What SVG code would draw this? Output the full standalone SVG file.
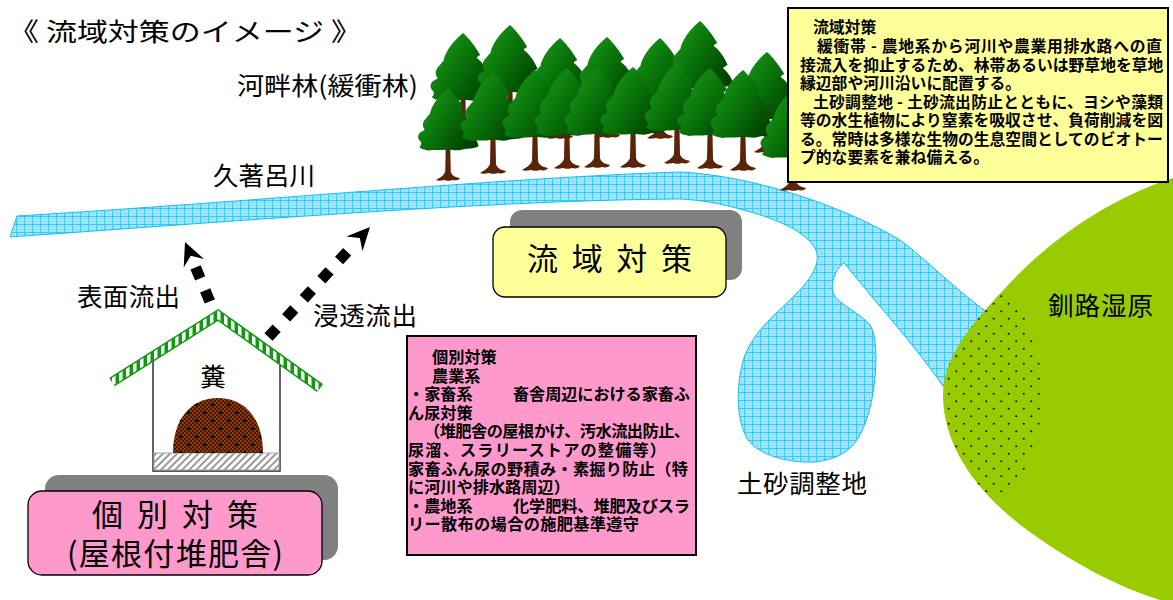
<svg xmlns="http://www.w3.org/2000/svg" width="1173" height="600" viewBox="0 0 1173 600">
<style>
.lbl{font-family:"Noto Sans CJK JP","Noto Sans CJK SC",sans-serif;font-size:25.5px;fill:#000}
.box{font-family:"Noto Sans CJK JP","Noto Sans CJK SC",sans-serif;font-size:31px;fill:#000}
.note{font-family:"Noto Sans CJK JP","Noto Sans CJK SC",sans-serif;font-size:15.8px;font-weight:bold;fill:#000}
.pnote{font-family:"Noto Sans CJK JP","Noto Sans CJK SC",sans-serif;font-size:16.2px;font-weight:bold;fill:#000}
.water{fill:url(#water);stroke:#12bff0;stroke-width:1}
.flow{fill:none;stroke:#000;stroke-width:11;stroke-linecap:butt;marker-end:url(#stealth)}
.shadow{fill:#808080}
</style>
<defs>
<pattern id="water" width="8" height="8" patternUnits="userSpaceOnUse">
<rect width="8" height="8" fill="#a2e4ff"/>
<rect x="2" y="2" width="1" height="1" fill="#62cff5"/>
<rect x="5" y="5" width="1" height="1" fill="#62cff5"/>
<rect x="2" y="5" width="1" height="1" fill="#7fd9f8"/>
<rect x="5" y="2" width="1" height="1" fill="#7fd9f8"/>
<path d="M0,0.5H8M0.5,0V8" stroke="#2cc6f2" stroke-width="0.9"/>
</pattern>
<pattern id="dots" width="15" height="15" patternUnits="userSpaceOnUse">
<circle cx="3.75" cy="3.75" r="1.1" fill="#1a1a00"/>
<circle cx="11.25" cy="11.25" r="1.1" fill="#1a1a00"/>
</pattern>
<pattern id="roofStripe" width="7" height="7" patternUnits="userSpaceOnUse">
<rect width="7" height="7" fill="#129912"/>
<rect width="3.5" height="7" fill="#fff"/>
</pattern>
<pattern id="hatch" width="5" height="5" patternUnits="userSpaceOnUse" patternTransform="rotate(45)">
<rect width="5" height="5" fill="#fff"/>
<rect width="2" height="5" fill="#9a9a9a"/>
</pattern>
<pattern id="manure" width="4" height="4" patternUnits="userSpaceOnUse">
<rect width="4" height="4" fill="#4a1700"/>
<rect width="2" height="2" fill="#8c3a0c"/>
<rect x="2" y="2" width="2" height="2" fill="#8c3a0c"/>
</pattern>
<pattern id="plus" width="16" height="16" patternUnits="userSpaceOnUse">
<path d="M2.5,4.5H6.5M4.5,2.5V6.5M10.5,12.5H14.5M12.5,10.5V14.5" stroke="#000" stroke-width="1.2"/>
</pattern>
<linearGradient id="leaf" x1="0" y1="0" x2="1" y2="0.7">
<stop offset="0" stop-color="#1ea31e"/>
<stop offset="0.5" stop-color="#0a760a"/>
<stop offset="1" stop-color="#004000"/>
</linearGradient>
<clipPath id="wetClip">
<path d="M1173,178 C1110,198 1050,240 1010,283 C975,320 943,355 943,395 C943,445 975,490 1023,527 C1070,562 1120,588 1160,600 L1173,600 Z"/>
</clipPath>
<marker id="stealth" viewBox="-25 -13 27 26" markerWidth="27" markerHeight="26" refX="0" refY="0" orient="auto" markerUnits="userSpaceOnUse">
<path d="M0,0 L-23,-11 L-15,0 L-23,11 Z" fill="#000"/>
</marker>
<g id="tree">
<path d="M-2.5,-34 L2.5,-34 L3,-9 C4,-5 8,-3 13,-2 C12,0 9,1 5,0 C3,1 -2,1 -4,0 C-8,1 -11,1 -13,0 C-10,-2 -5,-4 -3,-9 Z" fill="#5a2408"/>
<path transform="scale(1.15,1)" d="M0,-100 C5,-95 11,-86 15,-78 C13,-77 12,-76 12,-75 C18,-70 22,-62 24,-56 C22,-55 21,-54 20,-53 C25,-48 28,-42 29,-37 C24,-33 18,-35 13,-33 C8,-31 3,-34 -2,-33 C-8,-32 -13,-33 -18,-32 C-22,-33 -26,-34 -27,-36 C-25,-38 -25,-40 -26,-42 C-29,-45 -29,-49 -26,-52 C-24,-53 -23,-54 -22,-55 C-25,-59 -24,-64 -20,-68 C-19,-70 -18,-71 -17,-72 C-16,-80 -9,-92 0,-100 Z" fill="url(#leaf)"/>
</g>
</defs>

<rect width="1173" height="600" fill="#fff"/>

<g id="title">
<text class="lbl" x="8" y="41" font-size="23" textLength="354" lengthAdjust="spacingAndGlyphs">《 流域対策のイメージ 》</text>
</g>

<g id="river">
<path class="water" d="M17,216 C250,202 500,178 680,172 C760,176 850,210 900,240 C925,258 955,290 995,318 L995,400 L943,386 C925,360 900,330 877,303 C862,285 850,270 844,263 C836,268 829,285 834,295 C840,305 860,313 870,325 C880,340 876,390 868,415 C860,440 850,458 815,462 C785,463 760,455 748,440 C735,420 736,380 745,355 C755,330 775,315 795,295 C812,278 822,262 815,248 C805,232 780,220 747,211 C720,203 700,200 680,199 C500,200 250,220 10,237 Z"/>
</g>

<g id="wetland">
<path d="M1173,178 C1110,198 1050,240 1010,283 C975,320 943,355 943,395 C943,445 975,490 1023,527 C1070,562 1120,588 1160,600 L1173,600 Z" fill="#99cc00"/>
<g clip-path="url(#wetClip)">
<ellipse cx="992" cy="393" rx="50" ry="102" fill="url(#dots)"/>
</g>
</g>

<g id="trees">
<use href="#tree" x="463" y="133"/>
<use href="#tree" x="510" y="125"/>
<use href="#tree" x="560" y="138"/>
<use href="#tree" x="607" y="137"/>
<use href="#tree" x="660" y="138"/>
<use href="#tree" x="700" y="121"/>
<use href="#tree" x="767" y="152"/>
<use href="#tree" transform="translate(448,180) scale(0.92)"/>
<use href="#tree" x="493" y="173"/>
<use href="#tree" x="535" y="170"/>
<use href="#tree" x="567" y="168"/>
<use href="#tree" x="597" y="167"/>
<use href="#tree" x="633" y="167"/>
<use href="#tree" x="677" y="163"/>
<use href="#tree" x="710" y="168"/>
<use href="#tree" x="743" y="170"/>
<use href="#tree" x="793" y="190"/>
</g>

<g id="labels">
<text class="lbl" x="237" y="95" textLength="181" lengthAdjust="spacingAndGlyphs">河畔林(緩衝林)</text>
<text class="lbl" x="213" y="185" textLength="102">久著呂川</text>
<text class="lbl" x="77" y="306" textLength="103">表面流出</text>
<text class="lbl" x="313" y="325" textLength="104">浸透流出</text>
<text class="lbl" x="737" y="493" textLength="130">土砂調整地</text>
<text class="lbl" x="1048" y="315" textLength="105">釧路湿原</text>
</g>

<g id="house">
<path d="M153,360 V471 H280 V364" fill="none" stroke="#222" stroke-width="1.4"/>
<rect x="154" y="453" width="125" height="17" fill="url(#hatch)" stroke="#aaa" stroke-width="1"/>
<path d="M173,453 C173,420 190,398 218,398 C246,398 263,420 263,453 Z" fill="url(#manure)"/>
<path d="M173,453 C173,420 190,398 218,398 C246,398 263,420 263,453 Z" fill="url(#plus)"/>
<polyline points="112,382 218,315 320,388" fill="none" stroke="#119911" stroke-width="10" stroke-linejoin="miter"/>
<polyline points="112,382 218,315 320,388" fill="none" stroke="url(#roofStripe)" stroke-width="7" stroke-linejoin="miter"/>
<text class="lbl" x="213" y="386" font-size="22" text-anchor="middle">糞</text>
</g>

<g id="connectors">
<path class="flow" d="M209.8,301.5 L185,242" stroke-dasharray="12 13 12 100"/>
<path class="flow" d="M268.5,337 L370,227" stroke-dasharray="12 14 12 14 12 14 12 14 12 200"/>
</g>

<g id="box-ryuiki">
<rect class="shadow" x="510" y="210" width="232" height="70" rx="12"/>
<rect x="493" y="227" width="233" height="70" rx="12" fill="#ffff99" stroke="#000" stroke-width="1.3"/>
<text class="box" x="527" y="270" textLength="165">流 域 対 策</text>
</g>

<g id="box-kobetsu">
<rect class="shadow" x="45" y="475" width="293" height="85" rx="14"/>
<rect x="28" y="491" width="294" height="84" rx="14" fill="#ff99cc" stroke="#000" stroke-width="1.3"/>
<text class="box" x="92" y="526" textLength="166">個 別 対 策</text>
<text class="box" x="67" y="565" textLength="216">(屋根付堆肥舎)</text>
</g>

<g id="note-ryuiki">
<rect x="788" y="8" width="380" height="174" fill="#ffff99" stroke="#000" stroke-width="2"/>
<text class="note" x="813" y="33">流域対策</text>
<text class="note" x="817" y="52" textLength="345">緩衝帯 - 農地系から河川や農業用排水路への直</text>
<text class="note" x="800" y="70.5">接流入を抑止するため、林帯あるいは野草地を草地</text>
<text class="note" x="800" y="89">縁辺部や河川沿いに配置する。</text>
<text class="note" x="813" y="107.5" textLength="350">土砂調整地 - 土砂流出防止とともに、ヨシや藻類</text>
<text class="note" x="800" y="126">等の水生植物により窒素を吸収させ、負荷削減を図</text>
<text class="note" x="800" y="144.5">る。常時は多様な生物の生息空間としてのビオトー</text>
<text class="note" x="800" y="163">プ的な要素を兼ね備える。</text>
</g>

<g id="note-kobetsu">
<rect x="407" y="336" width="289" height="219" fill="#ff99cc" stroke="#000" stroke-width="2"/>
<text class="pnote" x="432" y="363">個別対策</text>
<text class="pnote" x="432" y="381.6">農業系</text>
<text class="pnote" y="400.2"><tspan x="408">・家畜系</tspan><tspan x="513" textLength="177">畜舎周辺における家畜ふ</tspan></text>
<text class="pnote" x="408" y="418.8">ん尿対策</text>
<text class="pnote" x="424" y="437.4" textLength="266">（堆肥舎の屋根かけ、汚水流出防止、</text>
<text class="pnote" x="408" y="456" textLength="258">尿溜、スラリーストアの整備等）</text>
<text class="pnote" x="408" y="474.6" textLength="280">家畜ふん尿の野積み・素掘り防止（特</text>
<text class="pnote" x="408" y="493.2">に河川や排水路周辺）</text>
<text class="pnote" y="511.8"><tspan x="408">・農地系</tspan><tspan x="513" textLength="177">化学肥料、堆肥及びスラ</tspan></text>
<text class="pnote" x="408" y="530.4" textLength="231">リー散布の場合の施肥基準遵守</text>
</g>
</svg>
